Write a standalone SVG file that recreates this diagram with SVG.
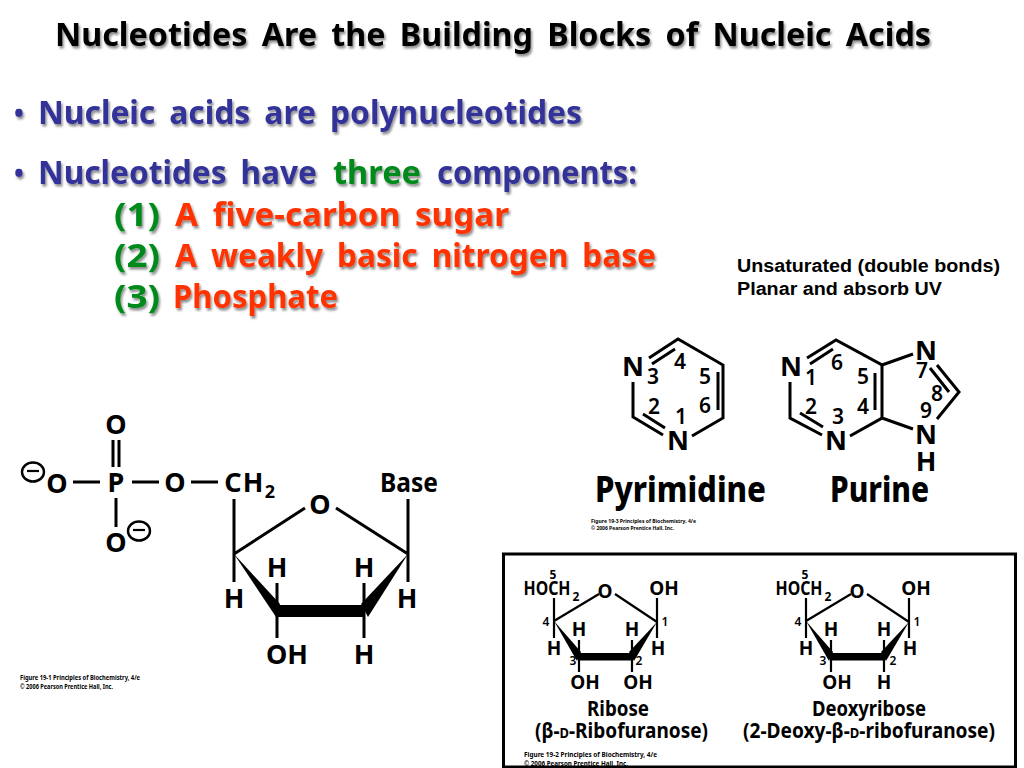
<svg xmlns="http://www.w3.org/2000/svg" width="1024" height="768" viewBox="0 0 1024 768">
<defs>
<filter id="sh" x="-5%" y="-30%" width="110%" height="160%"><feDropShadow dx="1.5" dy="2.5" stdDeviation="0.8" flood-color="#000" flood-opacity="0.45"/></filter>
</defs>
<style>
text{font-family:"Noto Sans","DejaVu Sans",sans-serif;font-weight:700;fill:#000;font-variant-ligatures:none}
.c{font-family:"Noto Sans",sans-serif;font-weight:700;font-size:33px;word-spacing:6px}
.bu{font-size:26px}
.b{fill:#333399}.g{fill:#008a1e}.r{fill:#ff3300}.k{fill:#000}
.note{font-family:"Liberation Sans",Arial,sans-serif;font-size:17.5px;font-weight:700}
.a{font-size:27px;text-anchor:middle}
.s{font-size:18px;text-anchor:middle}
.n{font-size:21px;font-weight:600;text-anchor:middle}
.t{font-size:35px;font-weight:800}
.m{font-size:19px;text-anchor:middle}
.y{font-size:12px;text-anchor:middle}
.l{font-size:22px}
.f{font-size:6.2px}
.nn{font-size:12px;font-weight:600;text-anchor:middle}
.w{fill:none;stroke:#000;stroke-width:3;stroke-linecap:butt;stroke-linejoin:miter}
.w2{fill:none;stroke:#000;stroke-width:2.2}
</style>
<rect width="1024" height="768" fill="#fff"/>

<g id="title" filter="url(#sh)">
<text class="c k" x="55" y="46" textLength="876" lengthAdjust="spacingAndGlyphs">Nucleotides Are the Building Blocks of Nucleic Acids</text>
</g>
<g id="bullets" filter="url(#sh)">
<text class="c b bu" x="14" y="123">•</text>
<text class="c b" x="38" y="124" textLength="544" lengthAdjust="spacingAndGlyphs">Nucleic acids are polynucleotides</text>
<text class="c b bu" x="14" y="183">•</text>
<text class="c b" x="38" y="184" textLength="279" lengthAdjust="spacingAndGlyphs">Nucleotides have</text>
<text class="c g" x="333" y="184" textLength="88" lengthAdjust="spacingAndGlyphs">three</text>
<text class="c b" x="437" y="184" textLength="200" lengthAdjust="spacingAndGlyphs">components:</text>
<text class="c g" x="114" y="226" textLength="46" lengthAdjust="spacingAndGlyphs">(1)</text>
<text class="c r" x="175" y="226" textLength="334" lengthAdjust="spacingAndGlyphs">A five-carbon sugar</text>
<text class="c g" x="114" y="267" textLength="46" lengthAdjust="spacingAndGlyphs">(2)</text>
<text class="c r" x="175" y="267" textLength="481" lengthAdjust="spacingAndGlyphs">A weakly basic nitrogen base</text>
<text class="c g" x="114" y="308" textLength="46" lengthAdjust="spacingAndGlyphs">(3)</text>
<text class="c r" x="173" y="308" textLength="165" lengthAdjust="spacingAndGlyphs">Phosphate</text>
</g>
<g id="note">
<text class="note" x="737" y="272" textLength="263" lengthAdjust="spacingAndGlyphs">Unsaturated (double bonds)</text>
<text class="note" x="737" y="295" textLength="205" lengthAdjust="spacingAndGlyphs">Planar and absorb UV</text>
</g>

<g id="nucleotide">
<g id="nucleotide-bonds">
<path class="w" d="M113 440V467M119 440V467M73 482H100M132 482H159M191 482H218M116 498V527M234 499V582M408 499V582M234 554L305 508M336 508L408 554M277 583V611M277 611V638M364 583V611M364 611V638"/>
<polygon points="234,554 280,604 276,617"/>
<polygon points="408,554 368,617 361,604"/>
<rect x="276" y="605" width="89" height="12"/>
<ellipse cx="33" cy="472" rx="11" ry="9.5" fill="#fff" stroke="#000" stroke-width="2.4"/>
<path class="w2" d="M27 471H39"/>
<ellipse cx="139" cy="531" rx="11" ry="9.5" fill="#fff" stroke="#000" stroke-width="2.4"/>
<path class="w2" d="M133 530H145"/>
</g>
<text class="a" x="116" y="434">O</text>
<text class="a" x="57" y="493">O</text>
<text class="a" x="116" y="492">P</text>
<text class="a" x="175" y="492">O</text>
<text class="a" x="233" y="492">C</text>
<text class="a" x="253" y="492">H</text>
<text class="s" x="270" y="498">2</text>
<text class="a" x="409" y="492" textLength="58" lengthAdjust="spacingAndGlyphs">Base</text>
<text class="a" x="116" y="552">O</text>
<text class="a" x="320" y="514">O</text>
<text class="a" x="277" y="577">H</text>
<text class="a" x="364" y="577">H</text>
<text class="a" x="234" y="608">H</text>
<text class="a" x="407" y="608">H</text>
<text class="a" x="287" y="664">OH</text>
<text class="a" x="364" y="664">H</text>
<text class="f" x="20" y="680" textLength="120" lengthAdjust="spacingAndGlyphs">Figure 19-1  Principles of Biochemistry, 4/e</text>
<text class="f" x="20" y="689" textLength="93" lengthAdjust="spacingAndGlyphs">© 2006 Pearson Prentice Hall, Inc.</text>
</g>

<g id="pyrimidine">
<path class="w" d="M649 358L678 339L723 365V418L692 436M652 364L675 349M718 372V410M663 435L633 417V382M643 414L665 428"/>
<text class="a" x="633" y="376">N</text>
<text class="a" x="678" y="450">N</text>
<text class="n" x="653" y="384">3</text>
<text class="n" x="680" y="369">4</text>
<text class="n" x="705" y="384">5</text>
<text class="n" x="705" y="413">6</text>
<text class="n" x="654" y="414">2</text>
<text class="n" x="681" y="424">1</text>
<text class="t" x="595" y="502" textLength="171" lengthAdjust="spacingAndGlyphs">Pyrimidine</text>
<text class="f" x="591" y="523" style="font-size:5px" textLength="105" lengthAdjust="spacingAndGlyphs">Figure 19-3  Principles of Biochemistry, 4/e</text>
<text class="f" x="591" y="530" style="font-size:5px" textLength="83" lengthAdjust="spacingAndGlyphs">© 2006 Pearson Prentice Hall, Inc.</text>
</g>

<g id="purine">
<path class="w" d="M807 358L836 340L882 365V418L850 436M810 364L833 349M875 373V410M822 435L790 418V382M800 413L823 427M882 365L913 354M882 418L913 429M937 365L959 392L937 419M930 368L949 392"/>
<text class="a" x="791" y="376">N</text>
<text class="a" x="836" y="450">N</text>
<text class="a" x="926" y="360">N</text>
<text class="a" x="926" y="444">N</text>
<text class="a" x="926" y="471">H</text>
<text class="n" x="811" y="385">1</text>
<text class="n" x="837" y="370">6</text>
<text class="n" x="863" y="384">5</text>
<text class="n" x="863" y="414">4</text>
<text class="n" x="811" y="414">2</text>
<text class="n" x="838" y="424">3</text>
<text class="n" x="922" y="378">7</text>
<text class="n" x="937" y="401">8</text>
<text class="n" x="926" y="418">9</text>
<text class="t" x="830" y="502" textLength="99" lengthAdjust="spacingAndGlyphs">Purine</text>
</g>

<g id="sugars">
<rect x="503.5" y="554" width="512" height="213" fill="#fff" stroke="#000" stroke-width="3"/>
<g id="ribose">
<path class="w2" d="M554 621L599 594M615 594L657 622M554 598V638M657 598V638M579 640V672M632 640V672"/>
<polygon points="554,621 581,652 577,661"/>
<polygon points="657,622 634,661 629,652"/>
<rect x="578" y="653" width="55" height="7.5"/>
<text class="y" x="553" y="579">5</text>
<text class="m" x="547" y="595" textLength="47" lengthAdjust="spacingAndGlyphs">HOCH</text>
<text class="y" x="576" y="601">2</text>
<text class="m" x="605" y="598">O</text>
<text class="m" x="664" y="595">OH</text>
<text class="nn" x="546" y="626">4</text>
<text class="nn" x="665" y="626">1</text>
<text class="nn" x="573" y="665">3</text>
<text class="nn" x="639" y="665">2</text>
<text class="m" x="579" y="636">H</text>
<text class="m" x="632" y="636">H</text>
<text class="m" x="554" y="655">H</text>
<text class="m" x="658" y="655">H</text>
<text class="m" x="585" y="689">OH</text>
<text class="m" x="638" y="689">OH</text>
<text class="l" x="587" y="716" textLength="62" lengthAdjust="spacingAndGlyphs">Ribose</text>
<text class="l" x="535" y="738" textLength="173" lengthAdjust="spacingAndGlyphs">(β-<tspan font-size="15">D</tspan>-Ribofuranose)</text>
<text class="f" x="524" y="757" textLength="133" lengthAdjust="spacingAndGlyphs">Figure 19-2  Principles of Biochemistry, 4/e</text>
<text class="f" x="524" y="766" textLength="104" lengthAdjust="spacingAndGlyphs">© 2006 Pearson Prentice Hall, Inc.</text>
</g>
<g id="deoxyribose">
<path class="w2" d="M806 621L851 594M867 594L909 622M806 598V638M909 598V638M831 640V672M884 640V672"/>
<polygon points="806,621 833,652 829,661"/>
<polygon points="909,622 886,661 881,652"/>
<rect x="830" y="653" width="55" height="7.5"/>
<text class="y" x="805" y="579">5</text>
<text class="m" x="799" y="595" textLength="47" lengthAdjust="spacingAndGlyphs">HOCH</text>
<text class="y" x="828" y="601">2</text>
<text class="m" x="857" y="598">O</text>
<text class="m" x="916" y="595">OH</text>
<text class="nn" x="798" y="626">4</text>
<text class="nn" x="917" y="626">1</text>
<text class="nn" x="823" y="665">3</text>
<text class="nn" x="893" y="665">2</text>
<text class="m" x="831" y="636">H</text>
<text class="m" x="884" y="636">H</text>
<text class="m" x="806" y="655">H</text>
<text class="m" x="910" y="655">H</text>
<text class="m" x="837" y="689">OH</text>
<text class="m" x="884" y="689">H</text>
<text class="l" x="812" y="716" textLength="114" lengthAdjust="spacingAndGlyphs">Deoxyribose</text>
<text class="l" x="743" y="738" textLength="252" lengthAdjust="spacingAndGlyphs">(2-Deoxy-β-<tspan font-size="15">D</tspan>-ribofuranose)</text>
</g>
</g>
</svg>
